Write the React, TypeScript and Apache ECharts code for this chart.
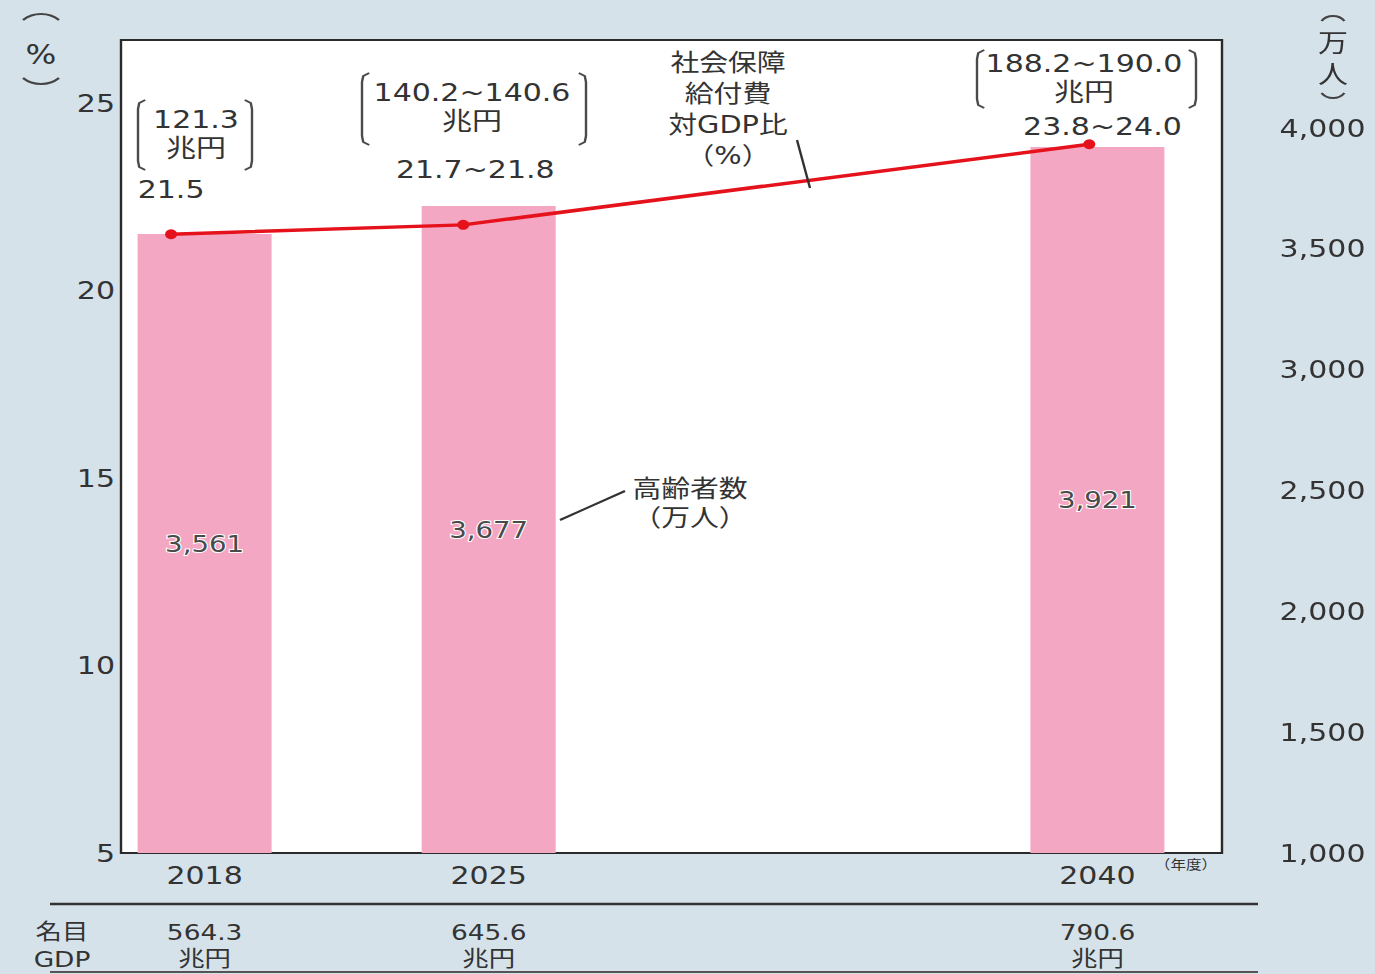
import { useEffect, useRef } from "react";
import * as echarts from "echarts";

// 年度
const years = [2018, 2025, 2040];
// 高齢者数（万人）
const elderly = [3561, 3677, 3921];
// 社会保障給付費 対GDP比（%）: plotted value and printed label
const ratio = [21.5, 21.75, 23.9];
const ratioLabels = ["21.5", "21.7~21.8", "23.8~24.0"];
// 社会保障給付費（兆円）
const benefitLabels = ["121.3", "140.2~140.6", "188.2~190.0"];
// 名目GDP（兆円）
const gdpLabels = ["564.3", "645.6", "790.6"];

const W = 1375;
const H = 974;
// the chart is laid out narrower and stretched horizontally for wide lettering
const SX = 1.2;
const DW = W / SX;
const sx = (x: number) => x / SX;

const BG = "#d6e2ea";
const TXT = "#333333";
const PINK = "#f4a7c3";
const RED = "#e5121c";
const FONT = "'DejaVu Sans', 'Noto Sans CJK JP', sans-serif";

// label placement for the ratio values, relative to each point
const ratioLabelOffsets = [
  [0, -45],
  [10, -55],
  [11, -18],
];
// bracketed benefit notes: [left, right, top, bottom, textX, textY]
const benefitBoxes = [
  [138, 252, 100, 170, 196, 133],
  [362, 586, 73, 145, 472, 106],
  [977, 1196, 50, 108, 1084, 77],
];

function bracket(xl: number, xr: number, yt: number, yb: number) {
  const l = sx(xl);
  const r = sx(xr);
  const s = 6;
  const style = { stroke: "#4a4a4a", lineWidth: 2, fill: "none" };
  return [
    {
      type: "polyline",
      shape: {
        points: [
          [l + s, yt],
          [l + 1, yt + 3],
          [l, yt + 9],
          [l, yb - 9],
          [l + 1, yb - 3],
          [l + s, yb],
        ],
      },
      style,
    },
    {
      type: "polyline",
      shape: {
        points: [
          [r - s, yt],
          [r - 1, yt + 3],
          [r, yt + 9],
          [r, yb - 9],
          [r - 1, yb - 3],
          [r - s, yb],
        ],
      },
      style,
    },
  ];
}

function parenArcs(cx: number, topY: number, botY: number, half: number, sag: number) {
  const r = (half * half + sag * sag) / (2 * sag);
  const a = Math.asin(half / r);
  const style = { stroke: "#444", lineWidth: 2.2, fill: "none" };
  return [
    {
      type: "arc",
      shape: { cx, cy: topY + r, r, startAngle: -Math.PI / 2 - a, endAngle: -Math.PI / 2 + a, clockwise: true },
      style,
    },
    {
      type: "arc",
      shape: { cx, cy: botY - r, r, startAngle: Math.PI / 2 - a, endAngle: Math.PI / 2 + a, clockwise: true },
      style,
    },
  ];
}

// one text element per line, so stacked lines stay separate
function lines(x: number, yFirst: number, step: number, rows: string[], fontSize: number) {
  return rows.map((t, i) => ({
    type: "text",
    x,
    y: yFirst + i * step,
    z: 10,
    style: {
      text: t,
      fill: TXT,
      fontSize,
      fontFamily: FONT,
      align: "center",
      verticalAlign: "middle",
    },
  }));
}

export default function App() {
  const ref = useRef<HTMLDivElement>(null);

  useEffect(() => {
    if (!ref.current) return;
    const chart = echarts.init(ref.current, null, { renderer: "svg", width: DW, height: H });

    const graphic: any[] = [];
    // axis unit captions
    graphic.push(...parenArcs(sx(41), 14, 84, 15, 6));
    graphic.push(...lines(sx(41), 54, 0, ["%"], 27));
    graphic.push(...parenArcs(sx(1333), 16, 98, 9.5, 5));
    graphic.push(...lines(sx(1333), 43, 31, ["万", "人"], 25));

    // benefit amounts in brackets
    benefitBoxes.forEach((b, i) => {
      graphic.push(...bracket(b[0], b[1], b[2], b[3]));
      graphic.push(...lines(sx(b[4]), b[5] - 14, 29, [benefitLabels[i], "兆円"], 25));
    });

    // series captions with leader lines
    graphic.push(...lines(sx(728), 62, 31, ["社会保障", "給付費", "対GDP比", "（%）"], 24));
    graphic.push({
      type: "line",
      z: 10,
      shape: { x1: sx(797), y1: 140, x2: sx(810), y2: 188 },
      style: { stroke: "#333", lineWidth: 2 },
    });
    graphic.push(...lines(sx(690), 488, 29, ["高齢者数", "（万人）"], 24));
    graphic.push({
      type: "line",
      z: 10,
      shape: { x1: sx(560), y1: 520, x2: sx(625), y2: 491 },
      style: { stroke: "#333", lineWidth: 2 },
    });

    // bottom table
    graphic.push(...lines(sx(1186), 864, 0, ["（年度）"], 13));
    graphic.push(...lines(sx(62), 931, 28, ["名目", "GDP"], 22));
    graphic.push({
      type: "line",
      shape: { x1: sx(50), y1: 904, x2: sx(1258), y2: 904 },
      style: { stroke: "#333", lineWidth: 2.5 },
    });
    graphic.push({
      type: "line",
      shape: { x1: sx(50), y1: 972, x2: sx(1258), y2: 972 },
      style: { stroke: "#555", lineWidth: 2 },
    });

    const option: any = {
      animation: false,
      backgroundColor: BG,
      textStyle: { fontFamily: FONT },
      grid: {
        left: sx(121),
        right: DW - sx(1222),
        top: 40,
        bottom: H - 853,
        show: true,
        backgroundColor: "#ffffff",
        borderColor: "#2a2a2a",
        borderWidth: 2,
      },
      xAxis: [
        { type: "value", min: 2016.8, max: 2043.18, show: false },
        {
          type: "value",
          min: 2015.94,
          max: 2043.07,
          position: "bottom",
          axisLine: { show: false },
          axisTick: { show: false },
          splitLine: { show: false },
          axisLabel: {
            customValues: years,
            margin: 9,
            color: TXT,
            formatter: (v: number) => {
              const i = years.indexOf(v);
              if (i < 0) return "";
              return `{yr|${v}}\n{sp| }\n{g|${gdpLabels[i]}}\n{g|兆円}`;
            },
            rich: {
              yr: { fontSize: 25, lineHeight: 26, color: TXT, fontFamily: FONT },
              sp: { fontSize: 10, lineHeight: 31 },
              g: { fontSize: 22, lineHeight: 26, color: TXT, fontFamily: FONT },
            },
          },
        },
      ],
      yAxis: [
        {
          type: "value",
          min: 5,
          max: 26.68,
          interval: 5,
          axisLine: { show: false },
          axisTick: { show: false },
          splitLine: { show: false },
          axisLabel: {
            margin: 5,
            fontSize: 25,
            color: TXT,
            formatter: (v: number) => (v % 5 === 0 ? String(v) : ""),
          },
        },
        {
          type: "value",
          position: "right",
          min: 1000,
          max: 4364,
          interval: 500,
          axisLine: { show: false },
          axisTick: { show: false },
          splitLine: { show: false },
          axisLabel: {
            margin: 48,
            fontSize: 25,
            color: TXT,
            padding: [0, 0, 14, 0],
            formatter: (v: number) => (v % 500 === 0 ? v.toLocaleString("en-US") : ""),
          },
        },
      ],
      series: [
        {
          type: "bar",
          xAxisIndex: 1,
          yAxisIndex: 1,
          barWidth: sx(134),
          itemStyle: { color: PINK },
          data: years.map((y, i) => [y, elderly[i]]),
          label: {
            show: true,
            position: "inside",
            fontSize: 23,
            color: "#4a4a4a",
            textBorderColor: "#ffffff",
            textBorderWidth: 2,
            formatter: (p: any) => p.value[1].toLocaleString("en-US"),
          },
        },
        {
          type: "line",
          xAxisIndex: 0,
          yAxisIndex: 0,
          z: 5,
          symbol: "circle",
          symbolSize: 10,
          lineStyle: { color: RED, width: 3.5 },
          itemStyle: { color: RED },
          data: years.map((y, i) => ({
            value: [y, ratio[i]],
            label: { offset: ratioLabelOffsets[i] },
          })),
          label: {
            show: true,
            position: "inside",
            fontSize: 25,
            color: TXT,
            textBorderWidth: 0,
            formatter: (p: any) => ratioLabels[p.dataIndex],
          },
        },
      ],
      graphic,
    };

    chart.setOption(option);
    return () => chart.dispose();
  }, []);

  return (
    <div
      style={{
        position: "absolute",
        left: 0,
        top: 0,
        width: W,
        height: H,
        overflow: "hidden",
        background: BG,
      }}
    >
      <div
        ref={ref}
        style={{ width: DW, height: H, transform: `scaleX(${SX})`, transformOrigin: "0 0" }}
      />
    </div>
  );
}
